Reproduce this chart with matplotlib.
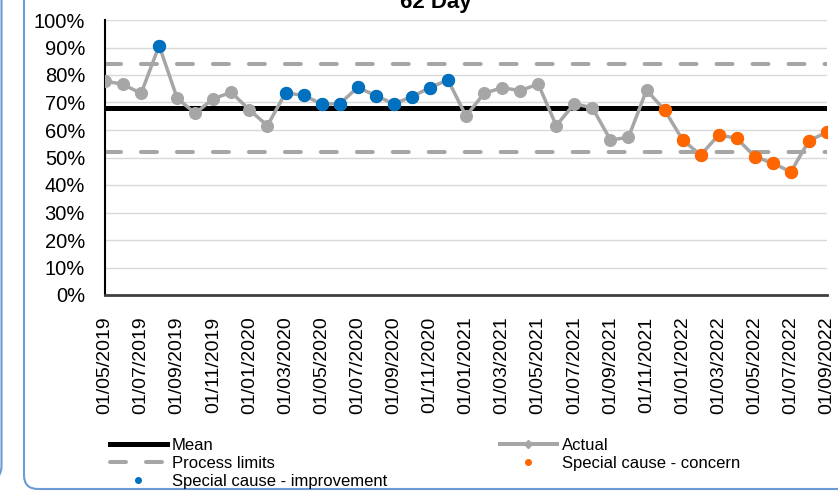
import matplotlib
matplotlib.use("Agg")
import matplotlib.pyplot as plt
import numpy as np
import pandas as pd
from matplotlib.lines import Line2D
from matplotlib.patches import FancyBboxPatch
from matplotlib.ticker import PercentFormatter
from matplotlib.transforms import IdentityTransform

plt.rcParams["font.family"] = ["Liberation Sans", "DejaVu Sans"]

# monthly performance, May 2019 - Sep 2022
months = pd.date_range("2019-05-01", "2022-09-01", freq="MS").strftime("%d/%m/%Y").tolist()
actual = [0.778, 0.766, 0.733, 0.907, 0.715, 0.661, 0.714, 0.737, 0.673, 0.616,
          0.735, 0.726, 0.695, 0.695, 0.755, 0.725, 0.695, 0.721, 0.754, 0.782,
          0.651, 0.733, 0.754, 0.743, 0.767, 0.616, 0.695, 0.681, 0.564, 0.573,
          0.745, 0.673, 0.564, 0.509, 0.582, 0.570, 0.503, 0.479, 0.448, 0.561,
          0.592]
improvement_idx = [3, 10, 11, 12, 13, 14, 15, 16, 17, 18, 19]
concern_idx = [31, 32, 33, 34, 35, 36, 37, 38, 39, 40]
mean = 0.679
upper_limit = 0.839
lower_limit = 0.521

GREY = "#A6A6A6"
BLUE = "#0070C0"
ORANGE = "#FF6600"
FRAME = "#6C9AD6"

W, H = 838, 491
fig = plt.figure(figsize=(W / 100, H / 100), dpi=100)
ax = fig.add_axes([105 / W, 1 - 295 / H, (827 - 105) / W, (295 - 20) / H])

x = np.arange(len(actual))
vals = np.array(actual)

lim_lw = 2.9
lim_style = (0, (11.5 / lim_lw, 14.4 / lim_lw))
ax.axhline(mean, color="black", lw=3.6, zorder=2)
for lim in (upper_limit, lower_limit):
    ax.axhline(lim, color=GREY, lw=lim_lw, ls=lim_style, dash_capstyle="round", zorder=2)

ax.plot(x, vals, color=GREY, lw=2.5, marker="o", ms=8.4, mfc=GREY, mec=GREY, zorder=3)
ax.plot(x[improvement_idx], vals[improvement_idx], "o", color=BLUE, ms=8.6, zorder=4)
ax.plot(x[concern_idx], vals[concern_idx], "o", color=ORANGE, ms=8.6, zorder=4)

ax.set_xlim(0, len(actual) - 1)
ax.set_ylim(0, 1)
ax.set_yticks(np.arange(0, 1.01, 0.1))
ax.yaxis.set_major_formatter(PercentFormatter(1.0, decimals=0))
ax.set_xticks(x[::2])
ax.set_xticklabels(months[::2], rotation=90, ha="center", va="top")
ax.tick_params(axis="y", length=0, pad=14.4, labelsize=14.5)
ax.tick_params(axis="x", length=0, pad=15.5, labelsize=14)
ax.yaxis.grid(True, color="#D9D9D9", lw=1)
ax.set_axisbelow(True)
for s in ("top", "right"):
    ax.spines[s].set_visible(False)
ax.spines["left"].set_color("black")
ax.spines["left"].set_linewidth(1.5)
ax.spines["bottom"].set_color("#404040")
ax.spines["bottom"].set_linewidth(2)

fig.text(436 / W, 1 - 8 / H, "62 Day", ha="center", va="baseline",
         fontsize=16, fontweight="bold")

legend_kw = dict(frameon=False, fontsize=12, borderpad=0, borderaxespad=0,
                 handlelength=3.4, handletextpad=0.3, labelspacing=0.18)
left_handles = [
    Line2D([], [], color="black", lw=3.6),
    Line2D([], [], color=GREY, lw=lim_lw, ls=lim_style, dash_capstyle="round"),
    Line2D([], [], color=BLUE, marker="o", ms=4, ls="none"),
]
right_handles = [
    Line2D([], [], color=GREY, lw=2.9, marker="D", ms=4),
    Line2D([], [], color=ORANGE, marker="o", ms=4, ls="none"),
]
fig.legend(left_handles, ["Mean", "Process limits", "Special cause - improvement"],
           loc="upper left", bbox_to_anchor=(110 / W, 1 - 438 / H), **legend_kw)
fig.legend(right_handles, ["Actual", "Special cause - concern"],
           loc="upper left", bbox_to_anchor=(500 / W, 1 - 438 / H), **legend_kw)

# panel borders
fig.patches.append(FancyBboxPatch((24, 2), 900, 600, boxstyle="round,pad=0,rounding_size=14",
                                  transform=IdentityTransform(), fill=False,
                                  edgecolor=FRAME, lw=1.5))
fig.patches.append(FancyBboxPatch((-400, 11), 401.5, 600, boxstyle="round,pad=0,rounding_size=14",
                                  transform=IdentityTransform(), fill=False,
                                  edgecolor=FRAME, lw=1.5))

fig.savefig("out.png", dpi=100)
